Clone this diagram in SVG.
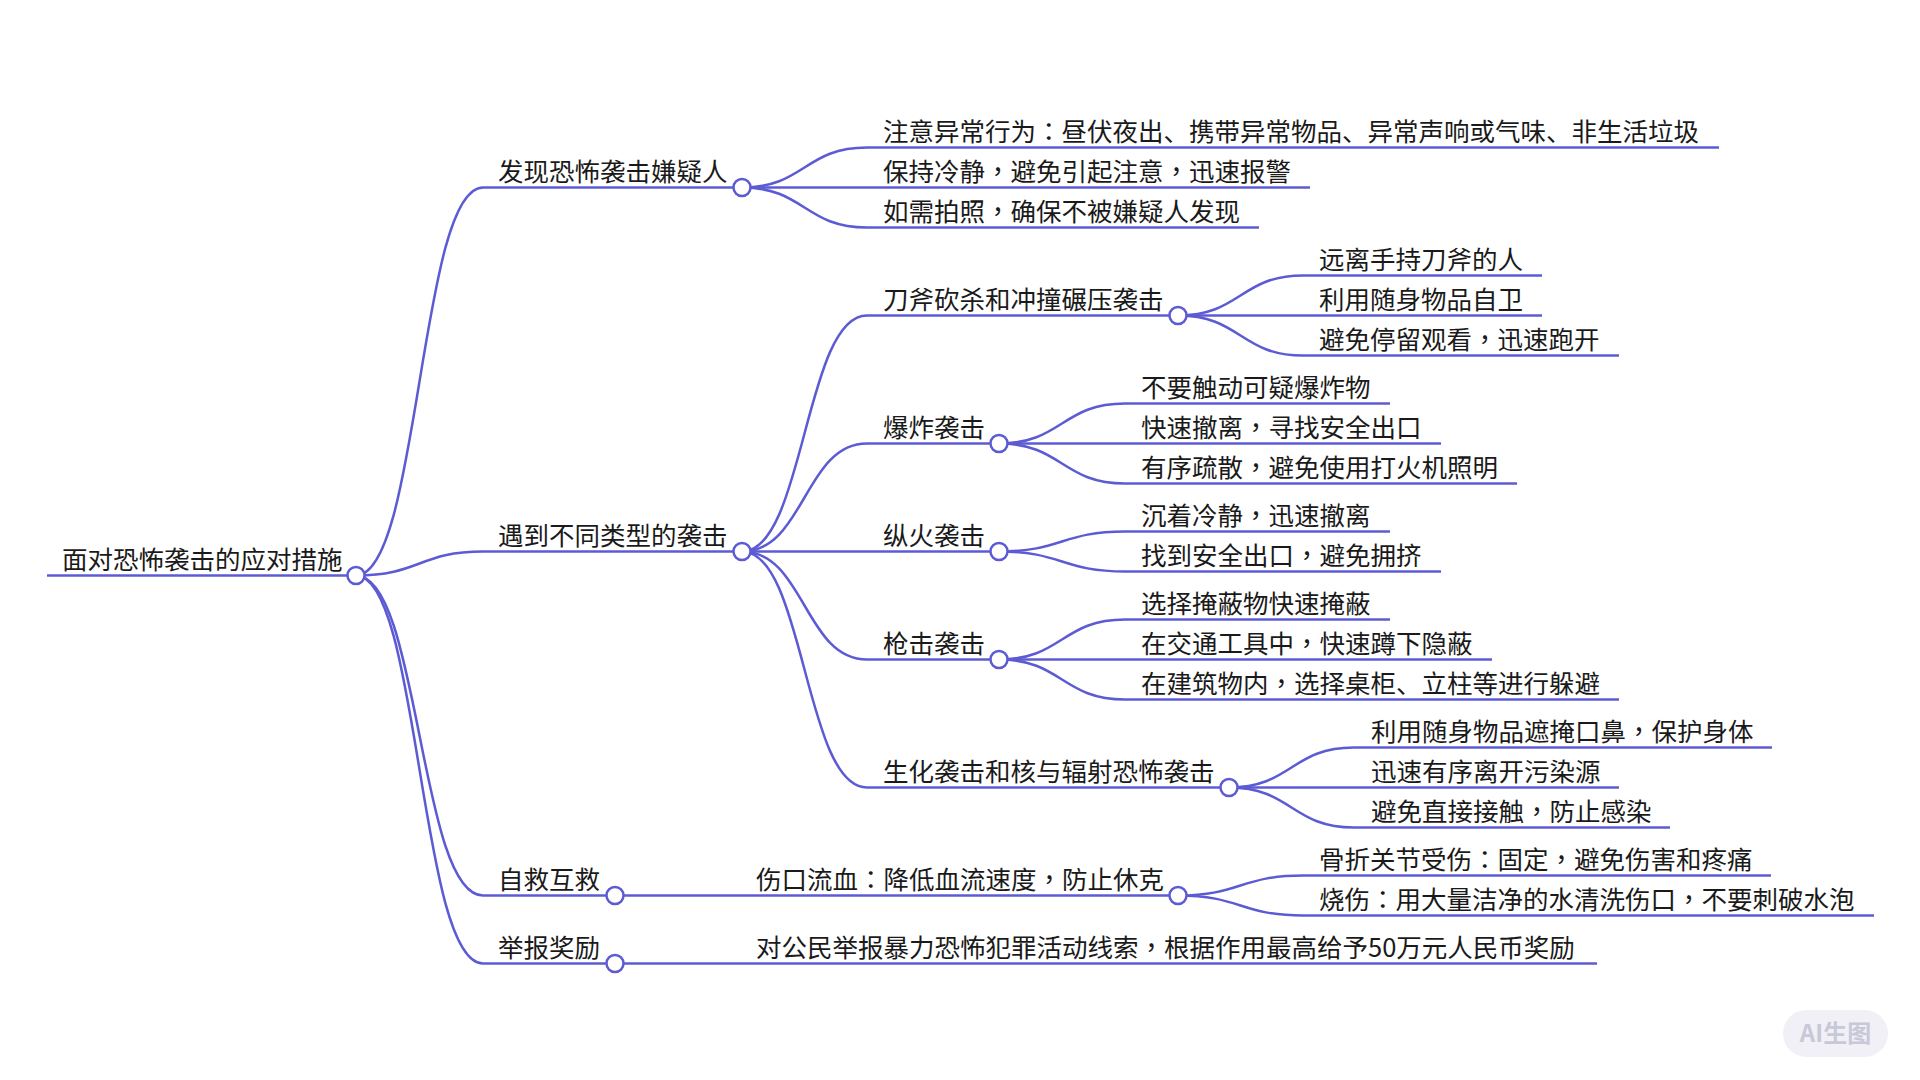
<svg xmlns="http://www.w3.org/2000/svg" width="1920" height="1080" viewBox="0 0 1920 1080">
<style>
.link{fill:none;stroke:#5d5bd4;stroke-width:2.5}
.ul{stroke:#5d5bd4;stroke-width:2.5;fill:none}
.dot{fill:#fff;stroke:#5d5bd4;stroke-width:2.5}
.t{font-family:"Noto Sans CJK SC","Noto Sans",sans-serif;font-size:25.5px;fill:#1a1a1a}
.p{font-family:"Noto Sans CJK TC","Noto Sans CJK SC",sans-serif}
.badge{fill:#f0f0f6}
.bt{font-family:"Noto Sans CJK SC","Noto Sans",sans-serif;font-size:24px;font-weight:bold;fill:#c8c8d8}
</style>
<rect width="1920" height="1080" fill="#ffffff"/>
<g id="connectors">
<path class="link" d="M356,575.5 C419.5,575.5 419.5,187.5 483,187.5"/>
<path class="link" d="M356,575.5 C419.5,575.5 419.5,551.5 483,551.5"/>
<path class="link" d="M356,575.5 C419.5,575.5 419.5,895.5 483,895.5"/>
<path class="link" d="M356,575.5 C419.5,575.5 419.5,963.5 483,963.5"/>
<path class="link" d="M742,187.5 C804.5,187.5 804.5,147.5 867,147.5"/>
<path class="link" d="M742,187.5 L867,187.5"/>
<path class="link" d="M742,187.5 C804.5,187.5 804.5,227.5 867,227.5"/>
<path class="link" d="M742,551.5 C804.5,551.5 804.5,315.5 867,315.5"/>
<path class="link" d="M742,551.5 C804.5,551.5 804.5,443.5 867,443.5"/>
<path class="link" d="M742,551.5 L867,551.5"/>
<path class="link" d="M742,551.5 C804.5,551.5 804.5,659.5 867,659.5"/>
<path class="link" d="M742,551.5 C804.5,551.5 804.5,787.5 867,787.5"/>
<path class="link" d="M1178,315.5 C1240.5,315.5 1240.5,275.5 1303,275.5"/>
<path class="link" d="M1178,315.5 L1303,315.5"/>
<path class="link" d="M1178,315.5 C1240.5,315.5 1240.5,355.5 1303,355.5"/>
<path class="link" d="M999,443.5 C1062,443.5 1062,403.5 1125,403.5"/>
<path class="link" d="M999,443.5 L1125,443.5"/>
<path class="link" d="M999,443.5 C1062,443.5 1062,483.5 1125,483.5"/>
<path class="link" d="M999,551.5 C1062,551.5 1062,531.5 1125,531.5"/>
<path class="link" d="M999,551.5 C1062,551.5 1062,571.5 1125,571.5"/>
<path class="link" d="M999,659.5 C1062,659.5 1062,619.5 1125,619.5"/>
<path class="link" d="M999,659.5 L1125,659.5"/>
<path class="link" d="M999,659.5 C1062,659.5 1062,699.5 1125,699.5"/>
<path class="link" d="M1229,787.5 C1291.5,787.5 1291.5,747.5 1354,747.5"/>
<path class="link" d="M1229,787.5 L1354,787.5"/>
<path class="link" d="M1229,787.5 C1291.5,787.5 1291.5,827.5 1354,827.5"/>
<path class="link" d="M615,895.5 L740,895.5"/>
<path class="link" d="M1178,895.5 C1240.5,895.5 1240.5,875.5 1303,875.5"/>
<path class="link" d="M1178,895.5 C1240.5,895.5 1240.5,915.5 1303,915.5"/>
<path class="link" d="M615,963.5 L740,963.5"/>
</g>
<g id="root">
<line class="ul" x1="47" y1="575.5" x2="356" y2="575.5"/>
<text class="t" x="62" y="568.5">面对恐怖袭击的应对措施</text>
<circle class="dot" cx="356" cy="575.5" r="8.5"/>
</g>
<g id="n-faxian">
<line class="ul" x1="483" y1="187.5" x2="742" y2="187.5"/>
<text class="t" x="498" y="180.5">发现恐怖袭击嫌疑人</text>
<circle class="dot" cx="742" cy="187.5" r="8.5"/>
</g>
<g id="n-faxian-1">
<line class="ul" x1="867" y1="147.5" x2="1719" y2="147.5"/>
<text class="t" x="883" y="140.5">注意异常行为<tspan class="p">：</tspan>昼伏夜出、携带异常物品、异常声响或气味、非生活垃圾</text>
</g>
<g id="n-faxian-2">
<line class="ul" x1="867" y1="187.5" x2="1310" y2="187.5"/>
<text class="t" x="883" y="180.5">保持冷静<tspan class="p">，</tspan>避免引起注意<tspan class="p">，</tspan>迅速报警</text>
</g>
<g id="n-faxian-3">
<line class="ul" x1="867" y1="227.5" x2="1259" y2="227.5"/>
<text class="t" x="883" y="220.5">如需拍照<tspan class="p">，</tspan>确保不被嫌疑人发现</text>
</g>
<g id="n-yudao">
<line class="ul" x1="483" y1="551.5" x2="742" y2="551.5"/>
<text class="t" x="498" y="544.5">遇到不同类型的袭击</text>
<circle class="dot" cx="742" cy="551.5" r="8.5"/>
</g>
<g id="n-daofu">
<line class="ul" x1="867" y1="315.5" x2="1178" y2="315.5"/>
<text class="t" x="883" y="308.5">刀斧砍杀和冲撞碾压袭击</text>
<circle class="dot" cx="1178" cy="315.5" r="8.5"/>
</g>
<g id="n-daofu-1">
<line class="ul" x1="1303" y1="275.5" x2="1542" y2="275.5"/>
<text class="t" x="1319" y="268.5">远离手持刀斧的人</text>
</g>
<g id="n-daofu-2">
<line class="ul" x1="1303" y1="315.5" x2="1542" y2="315.5"/>
<text class="t" x="1319" y="308.5">利用随身物品自卫</text>
</g>
<g id="n-daofu-3">
<line class="ul" x1="1303" y1="355.5" x2="1619" y2="355.5"/>
<text class="t" x="1319" y="348.5">避免停留观看<tspan class="p">，</tspan>迅速跑开</text>
</g>
<g id="n-baozha">
<line class="ul" x1="867" y1="443.5" x2="999" y2="443.5"/>
<text class="t" x="883" y="436.5">爆炸袭击</text>
<circle class="dot" cx="999" cy="443.5" r="8.5"/>
</g>
<g id="n-baozha-1">
<line class="ul" x1="1125" y1="403.5" x2="1390" y2="403.5"/>
<text class="t" x="1141" y="396.5">不要触动可疑爆炸物</text>
</g>
<g id="n-baozha-2">
<line class="ul" x1="1125" y1="443.5" x2="1441" y2="443.5"/>
<text class="t" x="1141" y="436.5">快速撤离<tspan class="p">，</tspan>寻找安全出口</text>
</g>
<g id="n-baozha-3">
<line class="ul" x1="1125" y1="483.5" x2="1517" y2="483.5"/>
<text class="t" x="1141" y="476.5">有序疏散<tspan class="p">，</tspan>避免使用打火机照明</text>
</g>
<g id="n-zonghuo">
<line class="ul" x1="867" y1="551.5" x2="999" y2="551.5"/>
<text class="t" x="883" y="544.5">纵火袭击</text>
<circle class="dot" cx="999" cy="551.5" r="8.5"/>
</g>
<g id="n-zonghuo-1">
<line class="ul" x1="1125" y1="531.5" x2="1390" y2="531.5"/>
<text class="t" x="1141" y="524.5">沉着冷静<tspan class="p">，</tspan>迅速撤离</text>
</g>
<g id="n-zonghuo-2">
<line class="ul" x1="1125" y1="571.5" x2="1441" y2="571.5"/>
<text class="t" x="1141" y="564.5">找到安全出口<tspan class="p">，</tspan>避免拥挤</text>
</g>
<g id="n-qiangji">
<line class="ul" x1="867" y1="659.5" x2="999" y2="659.5"/>
<text class="t" x="883" y="652.5">枪击袭击</text>
<circle class="dot" cx="999" cy="659.5" r="8.5"/>
</g>
<g id="n-qiangji-1">
<line class="ul" x1="1125" y1="619.5" x2="1390" y2="619.5"/>
<text class="t" x="1141" y="612.5">选择掩蔽物快速掩蔽</text>
</g>
<g id="n-qiangji-2">
<line class="ul" x1="1125" y1="659.5" x2="1492" y2="659.5"/>
<text class="t" x="1141" y="652.5">在交通工具中<tspan class="p">，</tspan>快速蹲下隐蔽</text>
</g>
<g id="n-qiangji-3">
<line class="ul" x1="1125" y1="699.5" x2="1619" y2="699.5"/>
<text class="t" x="1141" y="692.5">在建筑物内<tspan class="p">，</tspan>选择桌柜、立柱等进行躲避</text>
</g>
<g id="n-shenghua">
<line class="ul" x1="867" y1="787.5" x2="1229" y2="787.5"/>
<text class="t" x="883" y="780.5">生化袭击和核与辐射恐怖袭击</text>
<circle class="dot" cx="1229" cy="787.5" r="8.5"/>
</g>
<g id="n-shenghua-1">
<line class="ul" x1="1354" y1="747.5" x2="1772" y2="747.5"/>
<text class="t" x="1371" y="740.5">利用随身物品遮掩口鼻<tspan class="p">，</tspan>保护身体</text>
</g>
<g id="n-shenghua-2">
<line class="ul" x1="1354" y1="787.5" x2="1619" y2="787.5"/>
<text class="t" x="1371" y="780.5">迅速有序离开污染源</text>
</g>
<g id="n-shenghua-3">
<line class="ul" x1="1354" y1="827.5" x2="1670" y2="827.5"/>
<text class="t" x="1371" y="820.5">避免直接接触<tspan class="p">，</tspan>防止感染</text>
</g>
<g id="n-zijiu">
<line class="ul" x1="483" y1="895.5" x2="615" y2="895.5"/>
<text class="t" x="498" y="888.5">自救互救</text>
<circle class="dot" cx="615" cy="895.5" r="8.5"/>
</g>
<g id="n-shangkou">
<line class="ul" x1="740" y1="895.5" x2="1178" y2="895.5"/>
<text class="t" x="756" y="888.5">伤口流血<tspan class="p">：</tspan>降低血流速度<tspan class="p">，</tspan>防止休克</text>
<circle class="dot" cx="1178" cy="895.5" r="8.5"/>
</g>
<g id="n-shangkou-1">
<line class="ul" x1="1303" y1="875.5" x2="1771" y2="875.5"/>
<text class="t" x="1319" y="868.5">骨折关节受伤<tspan class="p">：</tspan>固定<tspan class="p">，</tspan>避免伤害和疼痛</text>
</g>
<g id="n-shangkou-2">
<line class="ul" x1="1303" y1="915.5" x2="1874" y2="915.5"/>
<text class="t" x="1319" y="908.5">烧伤<tspan class="p">：</tspan>用大量洁净的水清洗伤口<tspan class="p">，</tspan>不要刺破水泡</text>
</g>
<g id="n-jubao">
<line class="ul" x1="483" y1="963.5" x2="615" y2="963.5"/>
<text class="t" x="498" y="956.5">举报奖励</text>
<circle class="dot" cx="615" cy="963.5" r="8.5"/>
</g>
<g id="n-jubao-1">
<line class="ul" x1="740" y1="963.5" x2="1597" y2="963.5"/>
<text class="t" x="756" y="956.5">对公民举报暴力恐怖犯罪活动线索<tspan class="p">，</tspan>根据作用最高给予50万元人民币奖励</text>
</g>
<g id="badge">
<rect class="badge" x="1783" y="1010" width="105" height="47" rx="23.5"/>
<text class="bt" x="1835.5" y="1042" text-anchor="middle">AI生图</text>
</g>
</svg>
